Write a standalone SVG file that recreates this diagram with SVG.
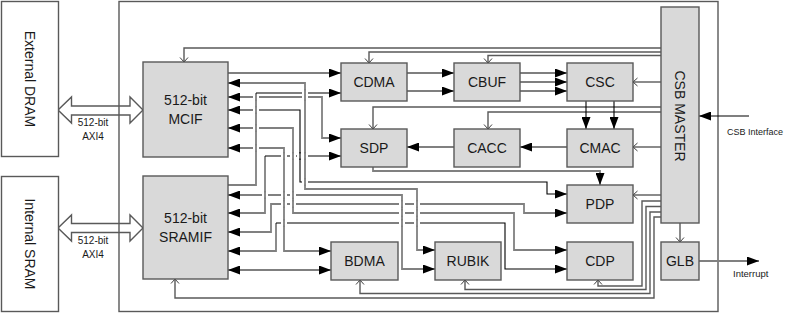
<svg xmlns="http://www.w3.org/2000/svg" width="791" height="313" viewBox="0 0 791 313">
  <defs>
    <style>
      .box { fill: #d9d9d9; stroke: #595959; stroke-width: 1.4; }
      .mem { fill: #ffffff; stroke: #595959; stroke-width: 1.4; }
      .lbl { font-family: "Liberation Sans", Arial, sans-serif; font-size: 14px; fill: #1a1a1a; text-anchor: middle; }
      .sm { font-family: "Liberation Sans", Arial, sans-serif; font-size: 9px; fill: #1a1a1a; }
      .axi { font-size: 10px; text-anchor: middle; }
      .blk { fill: none; stroke: #000000; stroke-width: 1.1; }
      .gry { fill: none; stroke: #808080; stroke-width: 1.8; }
      .ctl { fill: none; stroke: #595959; stroke-width: 1.4; marker-end: url(#chev); }
      .end { marker-end: url(#tri); }
      .both { marker-start: url(#tri); marker-end: url(#tri); }
      .st { marker-start: url(#tri); }
      .hop { fill: #ffffff; }
    </style>
    <marker id="tri" markerUnits="userSpaceOnUse" viewBox="0 0 12 9" markerWidth="12" markerHeight="9" refX="12" refY="4.5" orient="auto-start-reverse">
      <path d="M0,0 L12,4.5 L0,9 z" fill="#000000"/>
    </marker>
    <marker id="chev" markerUnits="userSpaceOnUse" viewBox="0 0 6 10" markerWidth="6" markerHeight="10" refX="5" refY="5" orient="auto">
      <path d="M0.5,1 L5,5 L0.5,9" fill="none" stroke="#404040" stroke-width="1"/>
    </marker>
  </defs>

  <rect width="791" height="313" fill="#ffffff"/>

  <!-- AXI4 bus arrows between memories and interfaces -->
  <g id="axi-links">
    <path class="mem" d="M58,110 L71.5,97 L71.5,106 L130,106 L130,97 L143,110 L130,123 L130,115 L71.5,115 L71.5,123 Z"/>
    <text class="sm axi" x="93" y="126">512-bit</text>
    <text class="sm axi" x="93" y="140">AXI4</text>
    <path class="mem" d="M58,228 L71.5,215 L71.5,223.5 L130,223.5 L130,215 L143,228 L130,241 L130,232.5 L71.5,232.5 L71.5,241 Z"/>
    <text class="sm axi" x="93" y="244">512-bit</text>
    <text class="sm axi" x="93" y="258">AXI4</text>
  </g>

  <!-- memories -->
  <g id="external-dram">
    <rect class="mem" x="1.5" y="1.5" width="57" height="155"/>
    <text class="lbl" transform="translate(30,79) rotate(90)" x="0" y="5">External DRAM</text>
  </g>
  <g id="internal-sram">
    <rect class="mem" x="1.5" y="176.5" width="57" height="135"/>
    <text class="lbl" transform="translate(30,244) rotate(90)" x="0" y="5">Internal SRAM</text>
  </g>

  <!-- accelerator boundary -->
  <rect id="nvdla-core" x="119" y="1.5" width="599" height="310" fill="none" stroke="#595959" stroke-width="1.4"/>

  <g id="connectors">
    <!-- CSB control paths -->
    <path class="ctl" d="M661,48 H184 V62"/>
    <path class="ctl" d="M661,52 H369 V63"/>
    <path class="ctl" d="M661,55.5 H488 V63"/>
    <path class="ctl" d="M661,82 H633"/>
    <path class="ctl" d="M661,107 H373 V129"/>
    <path class="ctl" d="M661,112 H488 V129"/>
    <path class="ctl" d="M661,147 H633"/>
    <path class="ctl" d="M661,195 H633"/>
    <path class="ctl" d="M661,201 H642 V286 H598 V280"/>
    <path class="ctl" d="M661,206.5 H646 V289.5 H465 V280" stroke="#000000" stroke-width="1.1"/>
    <path class="ctl" d="M661,212 H650 V293.5 H360 V280"/>
    <path class="ctl" d="M661,217 H654 V298 H175 V279"/>
    <path class="ctl" d="M680,223 V242"/>

    <!-- memory interface data paths -->
    <path class="blk end" d="M228,73 H341"/>
    <path class="gry both" d="M228,83 H305 V189 H417 V250 H435"/>
    <path class="gry" d="M228,185 H256 V93"/>
    <path class="blk end" d="M256,93 H341"/>
    <path class="gry both" d="M228,97 H322 V138 H341"/>
    <path class="blk both" d="M228,110 H300 V182 H547 V194 H567"/>
    <path class="gry both" d="M228,128 H293 V213 H514 V250 H567"/>
    <path class="gry both" d="M228,148 H284 V251 H331"/>
    <path class="gry both" d="M228,195 H402 V269 H435"/>
    <path class="gry st" d="M228,213 H265 V156"/>
    <path class="blk end" d="M265,156 H341"/>
    <path class="gry both" d="M228,232 H271 V204 H524 V213 H567"/>
    <path class="gry st" d="M228,251 H276 V223"/>
    <path class="blk end" d="M276,223 H505 V269 H567"/>
    <path class="blk both" d="M228,270 H331"/>

    <!-- line hops where paths cross -->
    <g class="hop">
      <rect x="302" y="90.5" width="6" height="5"/>
      <rect x="253" y="94.5" width="6" height="5"/>
      <rect x="302" y="94.5" width="6" height="5"/>
      <rect x="253" y="107.5" width="6" height="5"/>
      <rect x="253" y="125.5" width="6" height="5"/>
      <rect x="253" y="145.5" width="6" height="5"/>
      <rect x="281" y="153.5" width="6" height="5"/>
      <rect x="290" y="153.5" width="6" height="5"/>
      <rect x="297" y="153.5" width="6" height="5"/>
      <rect x="302" y="153.5" width="6" height="5"/>
      <rect x="302" y="179.5" width="6" height="5"/>
      <rect x="262" y="192.5" width="6" height="5"/>
      <rect x="281" y="192.5" width="6" height="5"/>
      <rect x="290" y="192.5" width="6" height="5"/>
      <rect x="281" y="201.5" width="6" height="5"/>
      <rect x="290" y="201.5" width="6" height="5"/>
      <rect x="399" y="201.5" width="6" height="5"/>
      <rect x="414" y="201.5" width="6" height="5"/>
      <rect x="399" y="210.5" width="6" height="5"/>
      <rect x="414" y="210.5" width="6" height="5"/>
      <rect x="281" y="220.5" width="6" height="5"/>
      <rect x="399" y="220.5" width="6" height="5"/>
      <rect x="414" y="220.5" width="6" height="5"/>
    </g>
    <path class="gry" d="M305,89 V101 M256,94 V101 M256,106 V114 M256,124 V132 M256,144 V152 M284,152 V160 M293,152 V160 M305,152 V160 M305,178 V186 M265,191 V199 M284,191 V199 M293,191 V199 M284,200 V208 M293,200 V208 M402,200 V208 M417,200 V208 M402,209 V217 M417,209 V217 M284,219 V227 M402,219 V227 M417,219 V227"/>
    <path class="blk" d="M300,152 V160"/>

    <!-- convolution pipeline -->
    <path class="blk end" d="M407,73 H454"/>
    <path class="blk end" d="M407,91 H454"/>
    <path class="blk end" d="M520,73 H567"/>
    <path class="blk end" d="M520,82 H567"/>
    <path class="blk end" d="M520,91 H567"/>
    <path class="blk end" d="M586,101 V129"/>
    <path class="blk end" d="M614,101 V129"/>
    <path class="gry end" d="M567,147 H520"/>
    <path class="gry end" d="M454,147 H407"/>
    <path class="gry end" d="M373,167 V171 H600 V185"/>

    <!-- external signals -->
    <path class="blk end" d="M749,116 H699"/>
    <path class="gry end" d="M699,261 H759"/>
  </g>

  <g id="mcif">
    <rect class="box" x="143" y="62" width="85" height="95"/>
    <text class="lbl" x="185.5" y="105">512-bit</text>
    <text class="lbl" x="185.5" y="124">MCIF</text>
  </g>
  <g id="sramif">
    <rect class="box" x="143" y="176" width="85" height="103"/>
    <text class="lbl" x="185.5" y="223">512-bit</text>
    <text class="lbl" x="185.5" y="242">SRAMIF</text>
  </g>
  <g id="cdma">
    <rect class="box" x="341" y="63" width="66" height="38"/>
    <text class="lbl" x="374" y="87">CDMA</text>
  </g>
  <g id="cbuf">
    <rect class="box" x="454" y="63" width="66" height="38"/>
    <text class="lbl" x="487" y="87">CBUF</text>
  </g>
  <g id="csc">
    <rect class="box" x="567" y="63" width="66" height="38"/>
    <text class="lbl" x="600" y="87">CSC</text>
  </g>
  <g id="sdp">
    <rect class="box" x="341" y="129" width="66" height="38"/>
    <text class="lbl" x="374" y="153">SDP</text>
  </g>
  <g id="cacc">
    <rect class="box" x="454" y="129" width="66" height="38"/>
    <text class="lbl" x="487" y="153">CACC</text>
  </g>
  <g id="cmac">
    <rect class="box" x="567" y="129" width="66" height="38"/>
    <text class="lbl" x="600" y="153">CMAC</text>
  </g>
  <g id="pdp">
    <rect class="box" x="567" y="185" width="66" height="38"/>
    <text class="lbl" x="600" y="209">PDP</text>
  </g>
  <g id="bdma">
    <rect class="box" x="331" y="242" width="67" height="38"/>
    <text class="lbl" x="364.5" y="266">BDMA</text>
  </g>
  <g id="rubik">
    <rect class="box" x="435" y="242" width="66" height="38"/>
    <text class="lbl" x="468" y="266">RUBIK</text>
  </g>
  <g id="cdp">
    <rect class="box" x="567" y="242" width="66" height="38"/>
    <text class="lbl" x="600" y="266">CDP</text>
  </g>
  <g id="csb-master">
    <rect class="box" x="661" y="7" width="38" height="216"/>
    <text class="lbl" transform="translate(680,116) rotate(90)" x="0" y="5">CSB MASTER</text>
  </g>
  <g id="glb">
    <rect class="box" x="661" y="242" width="38" height="38"/>
    <text class="lbl" x="680" y="266">GLB</text>
  </g>

  <text class="sm" x="727" y="135">CSB Interface</text>
  <text class="sm" x="733" y="277" style="font-size:9.5px">Interrupt</text>
</svg>
